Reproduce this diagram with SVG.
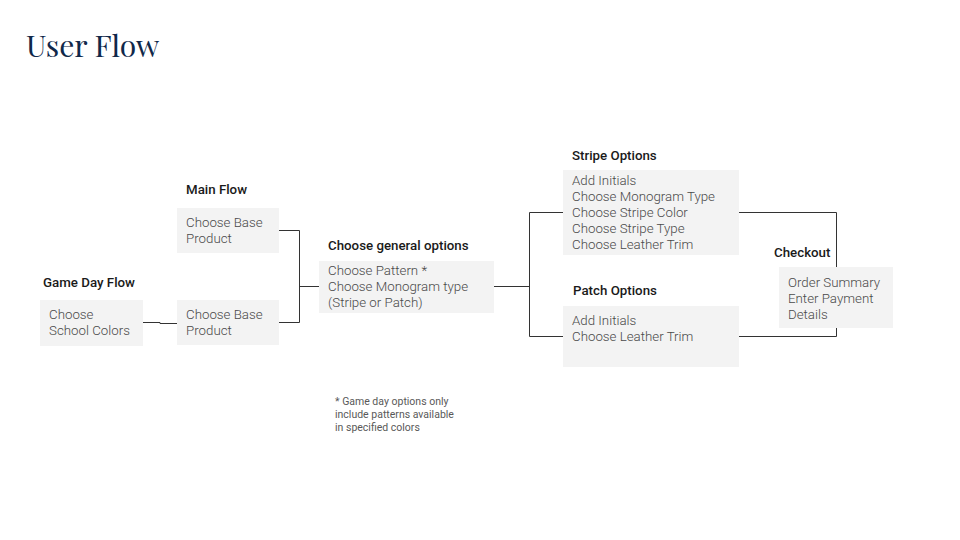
<svg xmlns="http://www.w3.org/2000/svg" width="960" height="540" viewBox="0 0 960 540">
<style>
.title{font-family:"Playfair Display","Liberation Serif","DejaVu Serif",serif;font-size:30px;fill:#10284a}
.lbl{font-family:Roboto,"Liberation Sans",sans-serif;font-size:13.3px;font-weight:500;fill:#1a1a1a}
.txt{font-family:Roboto,"Liberation Sans",sans-serif;font-size:13.3px;font-weight:300;fill:#4a4a4a}
.note{font-family:Roboto,"Liberation Sans",sans-serif;font-size:10.5px;fill:#595959}
.box{fill:#f3f3f3}
.con{fill:none;stroke:#333;stroke-width:1}
</style>
<rect width="960" height="540" fill="#fff"/>
<text class="title" x="26" y="57">User Flow</text>
<g id="connectors">
<polyline class="con" points="143,322.5 160,322.5 160,323.5 177,323.5"/>
<polyline class="con" points="279,230.5 299.5,230.5 299.5,322.5 279,322.5"/>
<line class="con" x1="299.5" y1="286.5" x2="320" y2="286.5"/>
<line class="con" x1="494" y1="286.5" x2="529.5" y2="286.5"/>
<polyline class="con" points="563,212.5 529.5,212.5 529.5,336.5 563,336.5"/>
<polyline class="con" points="739,212.5 836.5,212.5 836.5,336.5 739,336.5"/>
</g>
<g id="gameday">
<text class="lbl" x="43" y="287">Game Day Flow</text>
<rect class="box" x="40" y="300" width="103" height="46"/>
<text class="txt" x="49" y="319">Choose</text>
<text class="txt" x="49" y="335">School Colors</text>
</g>
<g id="main">
<text class="lbl" x="186" y="194">Main Flow</text>
<rect class="box" x="177" y="208" width="102" height="45"/>
<text class="txt" x="186" y="227">Choose Base</text>
<text class="txt" x="186" y="243">Product</text>
</g>
<g id="base2">
<rect class="box" x="177" y="300" width="102" height="45"/>
<text class="txt" x="186" y="319">Choose Base</text>
<text class="txt" x="186" y="335">Product</text>
</g>
<g id="general">
<text class="lbl" x="328" y="250">Choose general options</text>
<rect class="box" x="319" y="261" width="175" height="52"/>
<text class="txt" x="328" y="275">Choose Pattern *</text>
<text class="txt" x="328" y="291">Choose Monogram type</text>
<text class="txt" x="328" y="307">(Stripe or Patch)</text>
</g>
<g id="stripe">
<text class="lbl" x="572" y="160">Stripe Options</text>
<rect class="box" x="563" y="170" width="176" height="85"/>
<text class="txt" x="572" y="185">Add Initials</text>
<text class="txt" x="572" y="201">Choose Monogram Type</text>
<text class="txt" x="572" y="217">Choose Stripe Color</text>
<text class="txt" x="572" y="233">Choose Stripe Type</text>
<text class="txt" x="572" y="249">Choose Leather Trim</text>
</g>
<g id="patch">
<text class="lbl" x="573" y="295">Patch Options</text>
<rect class="box" x="563" y="306" width="176" height="61"/>
<text class="txt" x="572" y="325">Add Initials</text>
<text class="txt" x="572" y="341">Choose Leather Trim</text>
</g>
<g id="checkout">
<text class="lbl" x="774" y="257">Checkout</text>
<rect class="box" x="779" y="267" width="114" height="61"/>
<text class="txt" x="788" y="287">Order Summary</text>
<text class="txt" x="788" y="303">Enter Payment</text>
<text class="txt" x="788" y="319">Details</text>
</g>
<g id="footnote">
<text class="note" x="335" y="405">* Game day options only</text>
<text class="note" x="335" y="418">include patterns available</text>
<text class="note" x="335" y="431">in specified colors</text>
</g>
</svg>
